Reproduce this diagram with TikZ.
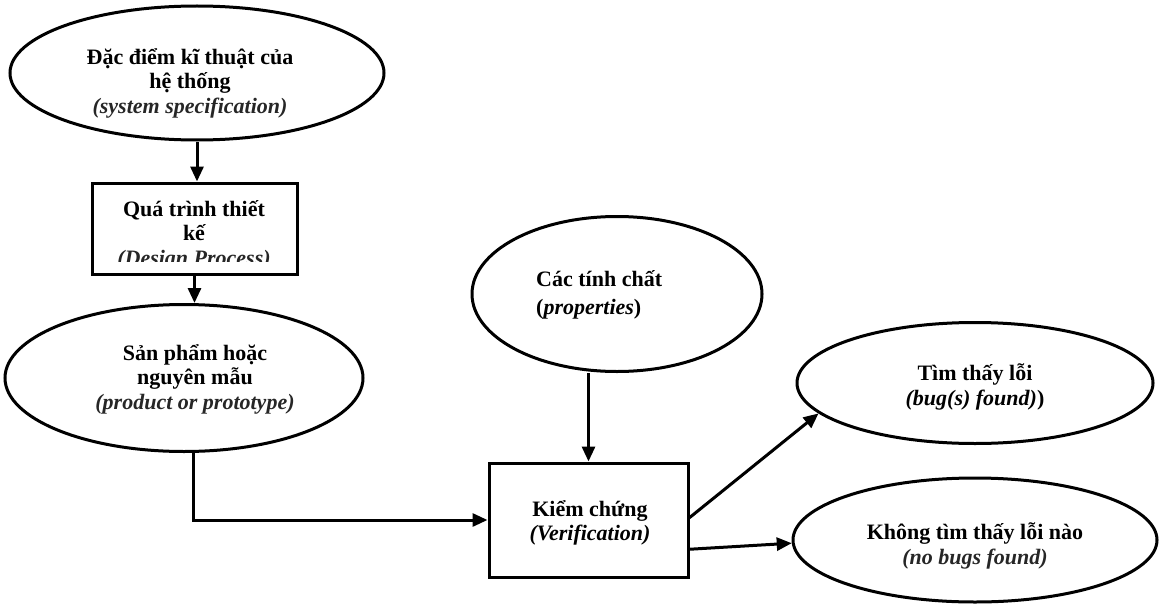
\documentclass[tikz,border=0pt]{standalone}
\usepackage{fontspec}
\setmainfont{Liberation Serif}
\usetikzlibrary{arrows.meta,shapes.geometric,calc}

\begin{document}
\begin{tikzpicture}[x=1pt,y=-1pt,
  outline/.style={draw=black,line width=3pt},
  oval/.style={outline,ellipse,inner sep=0pt},
  stepbox/.style={outline,rectangle,inner sep=0pt},
  caption/.style={font=\fontsize{22}{24.5}\selectfont\bfseries,align=center,inner sep=0pt},
  link/.style={line width=3pt,-{Triangle[length=15pt,width=13pt]}},
]
\useasboundingbox (0,0) rectangle (1161,607);

% shapes
\node[oval,minimum width=374pt,minimum height=134pt] (spec) at (197,73) {};
\node[stepbox,minimum width=205pt,minimum height=91pt] (design) at (194.5,228.5) {};
\node[oval,minimum width=358pt,minimum height=147pt] (product) at (184,378) {};
\node[oval,minimum width=290pt,minimum height=155pt] (props) at (617,294) {};
\node[stepbox,minimum width=199pt,minimum height=114pt] (verif) at (588.5,520) {};
\node[oval,minimum width=356pt,minimum height=121pt] (bug) at (975,383) {};
\node[oval,minimum width=364pt,minimum height=124pt] (nobug) at (975,540) {};

% texts
\node[caption] (specT) at (190,83) {Đặc điểm kĩ thuật của\\hệ thống\\{\itshape\color{black!85}(system specification)}};
\begin{scope}
  \clip (94,185) rectangle (295,261);
  \node[caption] (designT) at (194,235) {Quá trình thiết\\kế\\{\itshape\color{black!85}(Design Process)}};
\end{scope}
\node[caption] (productT) at (195,379) {Sản phẩm hoặc\\nguyên mẫu\\{\itshape\color{black!85}(product or prototype)}};
\node[caption,align=left,anchor=west] (propsT) at (536,295) {Các tính chất\\[3pt]({\itshape properties})};
\node[caption] (verifT) at (590,523) {Kiểm chứng\\{\itshape (Verification)}};
\node[caption] (bugT) at (975,387) {Tìm thấy lỗi\\{\itshape (bug(s) found)})};
\node[caption] (nobugT) at (975,546) {Không tìm thấy lỗi nào\\{\itshape\color{black!85}(no bugs found)}};

% connectors
\coordinate (prodout) at ($(product.south)+(9,0)$);
\coordinate (verifA) at ($(verif.north east)!0.48!(verif.south east)$);
\coordinate (verifB) at ($(verif.north east)!0.75!(verif.south east)$);

\draw[link] (spec.south) -- (spec.south |- design.north);
\draw[link] (design.south) -- (design.south |- product.north);
\draw[link] (prodout) |- (verif.west);
\draw[link] (verif.north |- props.south) -- (verif.north);
\draw[link] (verifA) -- (bug.191);
\draw[link] (verifB) -- (nobug.181);
\end{tikzpicture}
\end{document}
